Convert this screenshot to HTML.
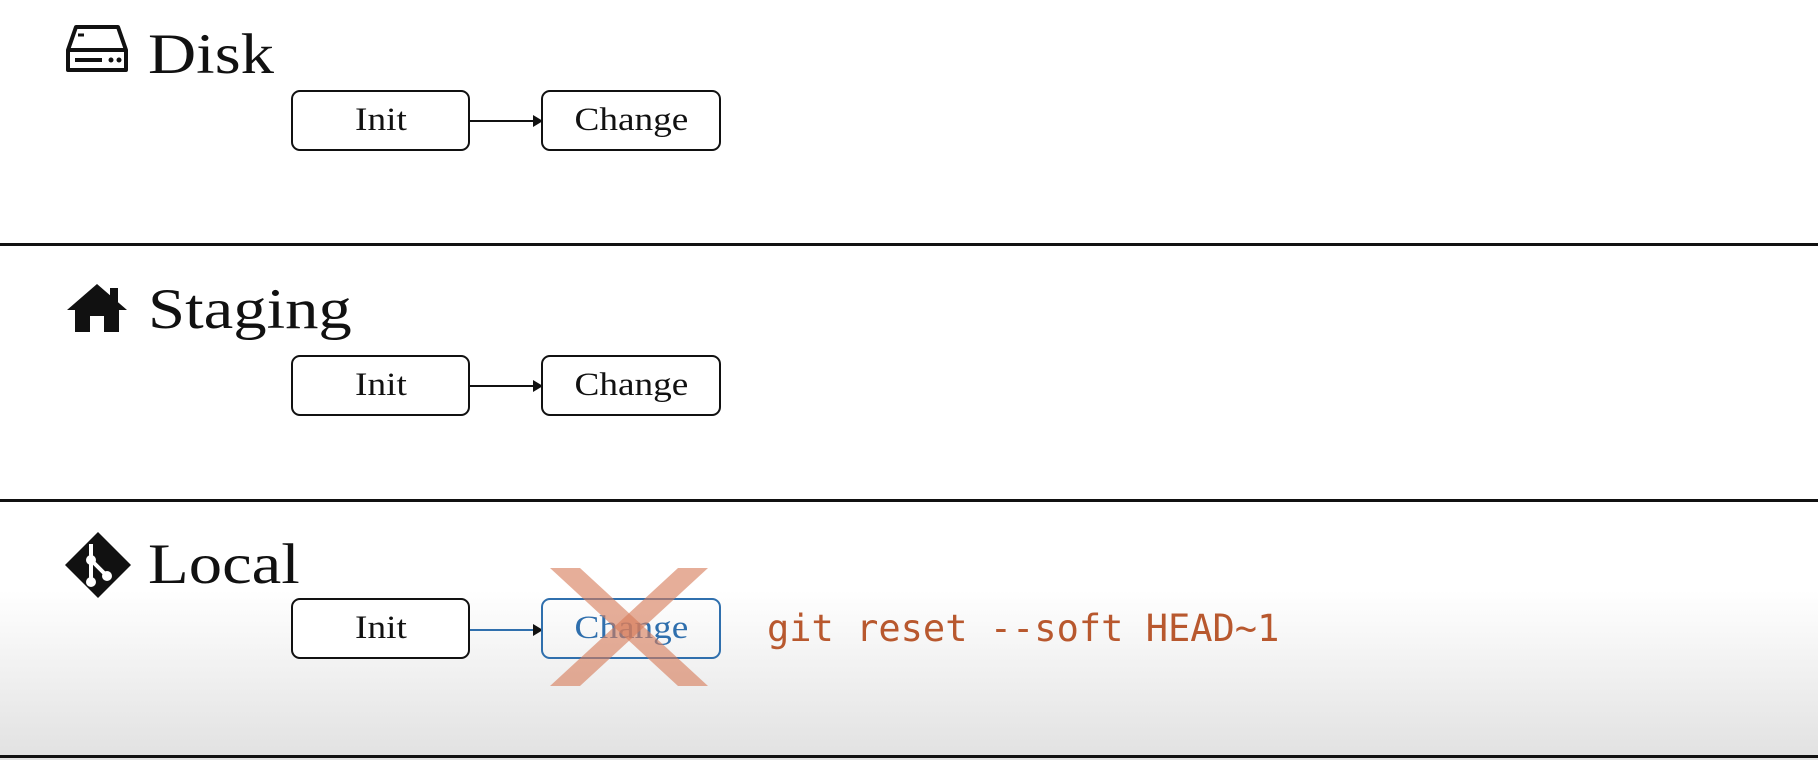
<!DOCTYPE html>
<html><head><style>
html,body{margin:0;padding:0;}
body{width:1818px;height:760px;position:relative;overflow:hidden;background:#fff;font-family:"Liberation Serif",serif;}
.grad{position:absolute;left:0;top:590px;width:1818px;height:170px;background:linear-gradient(#ffffff,#e1e1e1);}
.hl{position:absolute;left:0;width:1818px;height:3px;background:#111;}
.title{position:absolute;left:148px;font-size:57px;line-height:1;color:#111;transform:scaleX(1.17);transform-origin:0 0;}
.box{position:absolute;width:179px;height:61px;border:2px solid #111;border-radius:9px;box-sizing:border-box;background:#fff;font-size:33px;text-align:center;line-height:57px;color:#111;}
.box span{display:inline-block;transform:scaleX(1.13);}
.arrow{position:absolute;height:2px;background:#111;}
.arrow:after{content:"";position:absolute;right:-2px;top:-5px;border-left:10px solid #111;border-top:6px solid transparent;border-bottom:6px solid transparent;}
</style></head><body>
<div class="grad"></div>
<div class="hl" style="top:243px"></div>
<div class="hl" style="top:499px"></div>
<div class="hl" style="top:755px"></div>

<svg style="position:absolute;left:64px;top:24px" width="66" height="50" viewBox="0 0 66 50">
<path d="M12 3 H54 L62 26 V46 H4 V26 Z" fill="none" stroke="#111" stroke-width="4" stroke-linejoin="round"/>
<line x1="4" y1="26" x2="62" y2="26" stroke="#111" stroke-width="4"/>
<line x1="11" y1="36" x2="38" y2="36" stroke="#111" stroke-width="4"/>
<circle cx="47" cy="36" r="2.5" fill="#111"/><circle cx="55" cy="36" r="2.5" fill="#111"/>
<line x1="14" y1="11" x2="20" y2="11" stroke="#111" stroke-width="3"/>
</svg>
<div class="title" style="top:26px">Disk</div>
<div class="box" style="left:291px;top:90px"><span>Init</span></div>
<div class="arrow" style="left:470px;top:120px;width:71px"></div>
<div class="box" style="left:541px;top:90px;width:180px"><span>Change</span></div>

<svg style="position:absolute;left:66px;top:282px" width="62" height="50" viewBox="0 0 62 50">
<path d="M31 2 L61 28 H53 V50 H38 V34 H24 V50 H9 V28 H1 Z" fill="#111"/>
<rect x="44" y="6" width="8" height="14" fill="#111"/>
</svg>
<div class="title" style="top:281px">Staging</div>
<div class="box" style="left:291px;top:355px"><span>Init</span></div>
<div class="arrow" style="left:470px;top:385px;width:71px"></div>
<div class="box" style="left:541px;top:355px;width:180px"><span>Change</span></div>

<svg style="position:absolute;left:63px;top:530px" width="70" height="70" viewBox="0 0 70 70">
<path d="M35 2 L68 35 L35 68 L2 35 Z" fill="#111"/>
<path d="M28 14 L28 52 M28 30 L44 46" stroke="#fff" stroke-width="4"/>
<circle cx="28" cy="30" r="5" fill="#fff"/><circle cx="28" cy="52" r="5" fill="#fff"/><circle cx="44" cy="46" r="5" fill="#fff"/>
</svg>
<div class="title" style="top:536px">Local</div>
<div class="box" style="left:291px;top:598px"><span>Init</span></div>
<div class="arrow" style="left:470px;top:629px;width:71px;background:#2f6fad"></div>
<div class="box" style="left:541px;top:598px;width:180px;border-color:#2f6fad;color:#2f6fad;background:transparent"><span>Change</span></div>
<svg style="position:absolute;left:550px;top:568px" width="158" height="118" viewBox="0 0 158 118">
<polygon points="0,0 30,0 158,118 128,118" fill="rgba(214,124,90,0.62)"/>
<polygon points="128,0 158,0 30,118 0,118" fill="rgba(214,124,90,0.62)"/>
</svg>
<div style="position:absolute;left:767px;top:607px;font-family:'DejaVu Sans Mono','Liberation Mono',monospace;font-size:37px;color:#b8582e;line-height:44px;">git reset --soft HEAD~1</div>
</body></html>
